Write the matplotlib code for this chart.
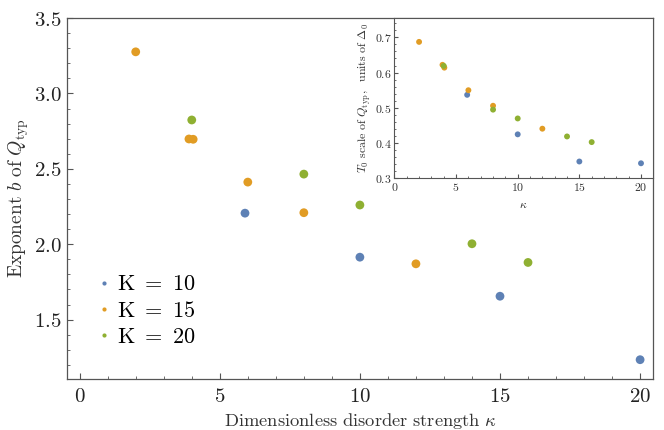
import numpy as np
import matplotlib.pyplot as plt
from matplotlib.ticker import MultipleLocator, FuncFormatter
from matplotlib.lines import Line2D

plt.rcParams['mathtext.fontset'] = 'cm'
plt.rcParams['font.family'] = 'serif'
plt.rcParams['font.serif'] = ['DejaVu Serif']

# main panel: exponent b vs kappa
k10_x = [5.9, 10, 15, 20]
k10_b = [2.206, 1.914, 1.655, 1.234]
k15_x = [2, 3.9, 4.05, 6, 8, 12]
k15_b = [3.276, 2.698, 2.696, 2.412, 2.209, 1.870]
k20_x = [4, 8, 10, 14, 16]
k20_b = [2.824, 2.465, 2.26, 2.003, 1.879]

# inset: T0 scale vs kappa
k10_t = [0.537, 0.425, 0.348, 0.343]
k15_xi = [2, 3.9, 4.05, 6, 8, 12]
k15_t = [0.687, 0.622, 0.614, 0.550, 0.506, 0.441]
k20_t = [0.619, 0.495, 0.470, 0.419, 0.403]

labels = ['K = 10', 'K = 15', 'K = 20']
c_blue = '#5E81B5'
c_orange = '#E19C24'
c_green = '#8FB032'
frame_col = '#555555'


def mt(v, pos=None, fmt='{:g}'):
    return '$' + fmt.format(v) + '$'


def style_axes(ax, lw=0.9):
    for s in ax.spines.values():
        s.set_color(frame_col)
        s.set_linewidth(lw)
    ax.tick_params(which='both', direction='in', color=frame_col,
                   top=False, right=False)


fig = plt.figure(figsize=(6.64, 4.30), dpi=100)
ax = fig.add_axes([0.101, 0.1186, 0.882, 0.8394])

ax.scatter(k10_x, k10_b, s=40, color=c_blue, edgecolors='none', zorder=3)
ax.scatter(k15_x, k15_b, s=40, color=c_orange, edgecolors='none', zorder=3)
ax.scatter(k20_x, k20_b, s=40, color=c_green, edgecolors='none', zorder=3)

ax.set_xlim(-0.45, 20.45)
ax.set_ylim(1.106, 3.5)
ax.xaxis.set_major_locator(MultipleLocator(5))
ax.xaxis.set_minor_locator(MultipleLocator(1))
ax.yaxis.set_major_locator(MultipleLocator(0.5))
ax.yaxis.set_minor_locator(MultipleLocator(0.1))
ax.xaxis.set_major_formatter(FuncFormatter(lambda v, p: mt(v, fmt='{:.0f}')))
ax.yaxis.set_major_formatter(FuncFormatter(lambda v, p: mt(v, fmt='{:.1f}')))
style_axes(ax)
ax.tick_params(which='major', length=4, labelsize=15, labelcolor='#222222')
ax.tick_params(axis='x', which='major', pad=6)
ax.tick_params(axis='y', which='major', pad=4)
ax.tick_params(which='minor', length=2.5)

ax.set_xlabel(r'$\mathrm{Dimensionless\ disorder\ strength}\ \kappa$',
              fontsize=13.3, color='#333333', labelpad=3)
ax.set_ylabel(r'$\mathrm{Exponent}\ b\ \mathrm{of}\ Q_{\mathrm{typ}}$',
              fontsize=14, color='#333333', labelpad=2)

handles = [Line2D([], [], ls='none', marker='o', ms=3, color=c, mec='none')
           for c in (c_blue, c_orange, c_green)]
leg = ax.legend(handles, [r'$\mathrm{' + l.replace(' ', r'\ ') + '}$' for l in labels],
                loc='center left', bbox_to_anchor=(0.0557, 0.189), frameon=False,
                fontsize=16, handlelength=0.4, handletextpad=0.4,
                labelspacing=0.2, borderpad=0, borderaxespad=0)

# inset
axi = fig.add_axes([0.594, 0.585, 0.389, 0.3734])
axi.set_facecolor('white')
axi.scatter(k10_x, k10_t, s=18, color=c_blue, edgecolors='none', zorder=3)
axi.scatter(k15_xi, k15_t, s=18, color=c_orange, edgecolors='none', zorder=3)
axi.scatter(k20_x, k20_t, s=18, color=c_green, edgecolors='none', zorder=3)
axi.set_xlim(0, 20.95)
axi.set_ylim(0.3, 0.755)
axi.xaxis.set_major_locator(MultipleLocator(5))
axi.xaxis.set_minor_locator(MultipleLocator(1))
axi.yaxis.set_major_locator(MultipleLocator(0.1))
axi.yaxis.set_minor_locator(MultipleLocator(0.02))
axi.xaxis.set_major_formatter(FuncFormatter(lambda v, p: mt(v, fmt='{:.0f}')))
axi.yaxis.set_major_formatter(FuncFormatter(lambda v, p: mt(v, fmt='{:.1f}')))
style_axes(axi, lw=0.8)
axi.tick_params(which='major', length=3, labelsize=8.5, labelcolor='#333333', pad=2)
axi.tick_params(which='minor', length=1.5)
axi.set_xlabel(r'$\kappa$', fontsize=8.5, color='#333333', labelpad=3)
axi.set_ylabel(r'$T_0\ \mathrm{scale\ of}\ Q_{\mathrm{typ}},\ \ \mathrm{units\ of}\ \Delta_0$',
               fontsize=8.6, color='#333333', labelpad=1)

fig.savefig('out.png', dpi=100)
